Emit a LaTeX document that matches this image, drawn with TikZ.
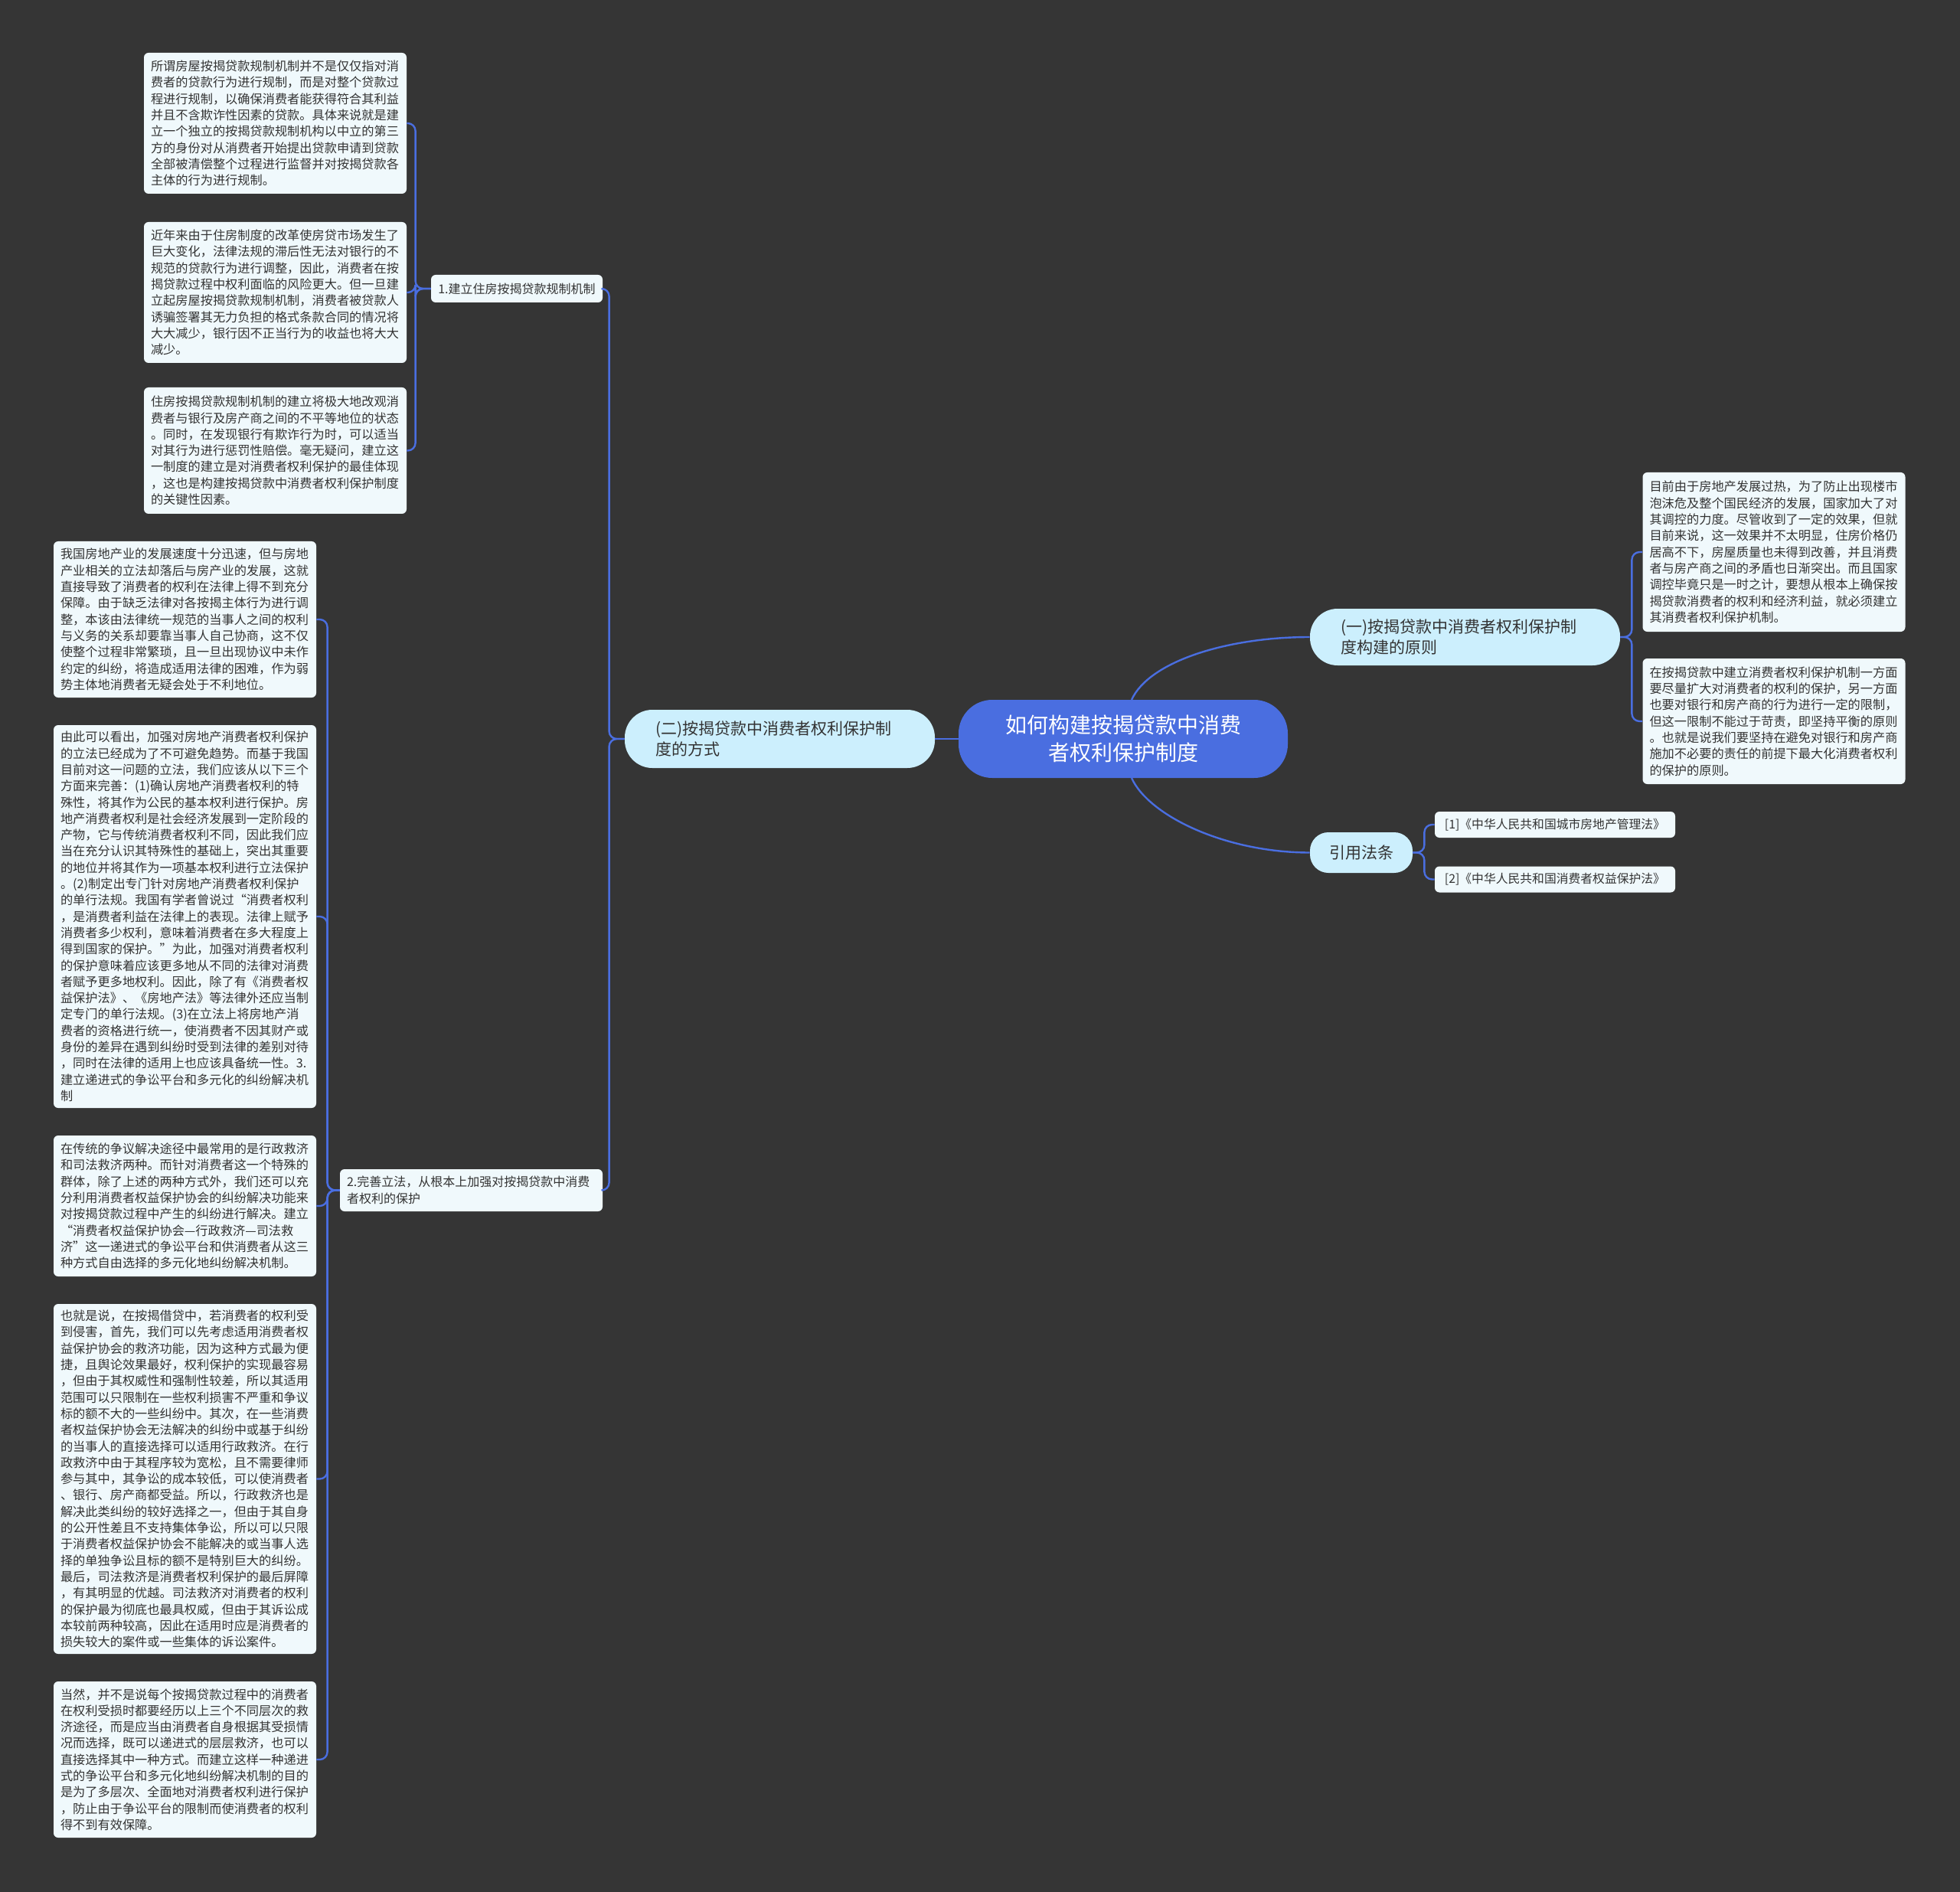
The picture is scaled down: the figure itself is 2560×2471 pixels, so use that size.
\documentclass[tikz,border=0pt]{standalone}
\usepackage{fontspec}
\newfontfamily\cjk{Noto Sans CJK SC}
\definecolor{bgc}{HTML}{353535}
\definecolor{rootc}{HTML}{4A6EE0}
\definecolor{linec}{HTML}{4A6EE0}
\definecolor{midc}{HTML}{CCEFFD}
\definecolor{leafc}{HTML}{F0F9FC}
\definecolor{textc}{HTML}{333333}
\newcommand\mmleaf{\cjk\fontsize{8.1pt}{10.65pt}\selectfont}
\newcommand\mmlab{\cjk\fontsize{8pt}{10.65pt}\selectfont}
\newcommand\mmlaw{\cjk\fontsize{7.9pt}{10pt}\selectfont}
\newcommand\mmmid{\cjk\fontsize{10.5pt}{13.5pt}\selectfont}
\newcommand\mmroot{\cjk\fontsize{14pt}{18pt}\selectfont}
\begin{document}
\begin{tikzpicture}[x=0.5pt,y=-0.5pt,
  leaf/.style={fill=leafc, rounded corners=3pt, text=textc, font=\mmleaf, align=left,
    text width=162.5pt, inner xsep=4.5pt, inner ysep=0pt, minimum width=171.5pt},
  labbox/.style={fill=leafc, rounded corners=3pt, text=textc, font=\mmlab, align=left,
    inner xsep=4pt, inner ysep=0pt},
  lawbox/.style={fill=leafc, rounded corners=3pt, text=textc, font=\mmlaw, align=left,
    inner xsep=4pt, inner ysep=0pt, minimum width=157pt, minimum height=17pt},
  midbox/.style={fill=midc, text=textc, font=\mmmid, align=left, inner xsep=20pt, inner ysep=0pt},
  rootbox/.style={fill=rootc, text=white, font=\mmroot, align=center, rounded corners=22pt,
    minimum width=215pt, minimum height=51pt, inner sep=0pt},
  conn/.style={draw=linec, line width=1.2pt, rounded corners=5pt}
]
\fill[bgc] (0,0) rectangle (2560,2471);
\useasboundingbox (0,0) rectangle (2560,2471);

% root
\node[rootbox] (root) at (1467,965) {如何构建按揭贷款中消费\\者权利保护制度};

% level 1
\node[midbox, text width=162.5pt, minimum width=202.5pt, minimum height=38pt, rounded corners=18pt] (two) at (1018.5,965)
  {(二)按揭贷款中消费者权利保护制\\度的方式};
\node[midbox, text width=162.5pt, minimum width=202.5pt, minimum height=37pt, rounded corners=18pt] (one) at (1913.5,832)
  {(一)按揭贷款中消费者权利保护制\\度构建的原则};
\node[midbox, align=center, inner xsep=0pt, minimum width=67pt, minimum height=26.5pt, rounded corners=12pt] (law) at (1778,1113.5)
  {引用法条};

% law leaves
\node[lawbox] (law1) at (2031,1077) {[1]《中华人民共和国城市房地产管理法》};
\node[lawbox] (law2) at (2031,1148.5) {[2]《中华人民共和国消费者权益保护法》};

% right leaves
\node[leaf, minimum height=104pt] (r1) at (2317,721) {目前由于房地产发展过热，为了防止出现楼市\\
泡沫危及整个国民经济的发展，国家加大了对\\
其调控的力度。尽管收到了一定的效果，但就\\
目前来说，这一效果并不太明显，住房价格仍\\
居高不下，房屋质量也未得到改善，并且消费\\
者与房产商之间的矛盾也日渐突出。而且国家\\
调控毕竟只是一时之计，要想从根本上确保按\\
揭贷款消费者的权利和经济利益，就必须建立\\
其消费者权利保护机制。};
\node[leaf, minimum height=82pt] (r2) at (2317,942) {在按揭贷款中建立消费者权利保护机制一方面\\
要尽量扩大对消费者的权利的保护，另一方面\\
也要对银行和房产商的行为进行一定的限制，\\
但这一限制不能过于苛责，即坚持平衡的原则\\
。也就是说我们要坚持在避免对银行和房产商\\
施加不必要的责任的前提下最大化消费者权利\\
的保护的原则。};

% level 2 labels
\node[labbox, minimum width=112pt, minimum height=18pt] (lab1) at (675,377) {1.建立住房按揭贷款规制机制};
\node[labbox, text width=162.5pt, minimum width=171.5pt, minimum height=27.5pt] (lab2) at (615.5,1554.5)
  {2.完善立法，从根本上加强对按揭贷款中消费\\者权利的保护};

% leaves under lab1
\node[leaf, minimum height=92pt] (b1) at (359.5,161) {所谓房屋按揭贷款规制机制并不是仅仅指对消\\
费者的贷款行为进行规制，而是对整个贷款过\\
程进行规制，以确保消费者能获得符合其利益\\
并且不含欺诈性因素的贷款。具体来说就是建\\
立一个独立的按揭贷款规制机构以中立的第三\\
方的身份对从消费者开始提出贷款申请到贷款\\
全部被清偿整个过程进行监督并对按揭贷款各\\
主体的行为进行规制。};
\node[leaf, minimum height=92pt] (b2) at (359.5,382) {近年来由于住房制度的改革使房贷市场发生了\\
巨大变化，法律法规的滞后性无法对银行的不\\
规范的贷款行为进行调整，因此，消费者在按\\
揭贷款过程中权利面临的风险更大。但一旦建\\
立起房屋按揭贷款规制机制，消费者被贷款人\\
诱骗签署其无力负担的格式条款合同的情况将\\
大大减少，银行因不正当行为的收益也将大大\\
减少。};
\node[leaf, minimum height=82.5pt] (b3) at (359.5,588.5) {住房按揭贷款规制机制的建立将极大地改观消\\
费者与银行及房产商之间的不平等地位的状态\\
。同时，在发现银行有欺诈行为时，可以适当\\
对其行为进行惩罚性赔偿。毫无疑问，建立这\\
一制度的建立是对消费者权利保护的最佳体现\\
，这也是构建按揭贷款中消费者权利保护制度\\
的关键性因素。};

% leaves under lab2
\node[leaf, minimum height=102pt] (b4) at (241.5,809) {我国房地产业的发展速度十分迅速，但与房地\\
产业相关的立法却落后与房产业的发展，这就\\
直接导致了消费者的权利在法律上得不到充分\\
保障。由于缺乏法律对各按揭主体行为进行调\\
整，本该由法律统一规范的当事人之间的权利\\
与义务的关系却要靠当事人自己协商，这不仅\\
使整个过程非常繁琐，且一旦出现协议中未作\\
约定的纠纷，将造成适用法律的困难，作为弱\\
势主体地消费者无疑会处于不利地位。};
\node[leaf, minimum height=250pt] (b5) at (241.5,1197) {由此可以看出，加强对房地产消费者权利保护\\
的立法已经成为了不可避免趋势。而基于我国\\
目前对这一问题的立法，我们应该从以下三个\\
方面来完善：(1)确认房地产消费者权利的特\\
殊性，将其作为公民的基本权利进行保护。房\\
地产消费者权利是社会经济发展到一定阶段的\\
产物，它与传统消费者权利不同，因此我们应\\
当在充分认识其特殊性的基础上，突出其重要\\
的地位并将其作为一项基本权利进行立法保护\\
。(2)制定出专门针对房地产消费者权利保护\\
的单行法规。我国有学者曾说过“消费者权利\\
，是消费者利益在法律上的表现。法律上赋予\\
消费者多少权利，意味着消费者在多大程度上\\
得到国家的保护。”为此，加强对消费者权利\\
的保护意味着应该更多地从不同的法律对消费\\
者赋予更多地权利。因此，除了有《消费者权\\
益保护法》、《房地产法》等法律外还应当制\\
定专门的单行法规。(3)在立法上将房地产消\\
费者的资格进行统一，使消费者不因其财产或\\
身份的差异在遇到纠纷时受到法律的差别对待\\
，同时在法律的适用上也应该具备统一性。3.\\
建立递进式的争讼平台和多元化的纠纷解决机\\
制};
\node[leaf, minimum height=92pt] (b6) at (241.5,1575) {在传统的争议解决途径中最常用的是行政救济\\
和司法救济两种。而针对消费者这一个特殊的\\
群体，除了上述的两种方式外，我们还可以充\\
分利用消费者权益保护协会的纠纷解决功能来\\
对按揭贷款过程中产生的纠纷进行解决。建立\\
“消费者权益保护协会—行政救济—司法救\\
济”这一递进式的争讼平台和供消费者从这三\\
种方式自由选择的多元化地纠纷解决机制。};
\node[leaf, minimum height=228.5pt] (b7) at (241.5,1931.5) {也就是说，在按揭借贷中，若消费者的权利受\\
到侵害，首先，我们可以先考虑适用消费者权\\
益保护协会的救济功能，因为这种方式最为便\\
捷，且舆论效果最好，权利保护的实现最容易\\
，但由于其权威性和强制性较差，所以其适用\\
范围可以只限制在一些权利损害不严重和争议\\
标的额不大的一些纠纷中。其次，在一些消费\\
者权益保护协会无法解决的纠纷中或基于纠纷\\
的当事人的直接选择可以适用行政救济。在行\\
政救济中由于其程序较为宽松，且不需要律师\\
参与其中，其争讼的成本较低，可以使消费者\\
、银行、房产商都受益。所以，行政救济也是\\
解决此类纠纷的较好选择之一，但由于其自身\\
的公开性差且不支持集体争讼，所以可以只限\\
于消费者权益保护协会不能解决的或当事人选\\
择的单独争讼且标的额不是特别巨大的纠纷。\\
最后，司法救济是消费者权利保护的最后屏障\\
，有其明显的优越。司法救济对消费者的权利\\
的保护最为彻底也最具权威，但由于其诉讼成\\
本较前两种较高，因此在适用时应是消费者的\\
损失较大的案件或一些集体的诉讼案件。};
\node[leaf, minimum height=102pt] (b8) at (241.5,2298) {当然，并不是说每个按揭贷款过程中的消费者\\
在权利受损时都要经历以上三个不同层次的救\\
济途径，而是应当由消费者自身根据其受损情\\
况而选择，既可以递进式的层层救济，也可以\\
直接选择其中一种方式。而建立这样一种递进\\
式的争讼平台和多元化地纠纷解决机制的目的\\
是为了多层次、全面地对消费者权利进行保护\\
，防止由于争讼平台的限制而使消费者的权利\\
得不到有效保障。};

% connectors
\draw[conn] (root.west) -- (two.east);
\draw[conn] (1478,914) .. controls (1500,865) and (1600,832) .. (one.west);
\draw[conn] (1478,1016) .. controls (1500,1065) and (1600,1113.5) .. (law.west);

\foreach \c in {r1,r2} \draw[conn] (one.east) -- ++(15,0) |- (\c.west);
\foreach \c in {law1,law2} \draw[conn] (law.east) -- ++(15,0) |- (\c.west);
\foreach \c in {lab1,lab2} \draw[conn] (two.west) -- ++(-20,0) |- (\c.east);
\foreach \c in {b1,b2,b3} \draw[conn] (lab1.west) -- ++(-20,0) |- (\c.east);
\foreach \c in {b4,b5,b6,b7,b8} \draw[conn] (lab2.west) -- ++(-16,0) |- (\c.east);
\end{tikzpicture}
\end{document}
